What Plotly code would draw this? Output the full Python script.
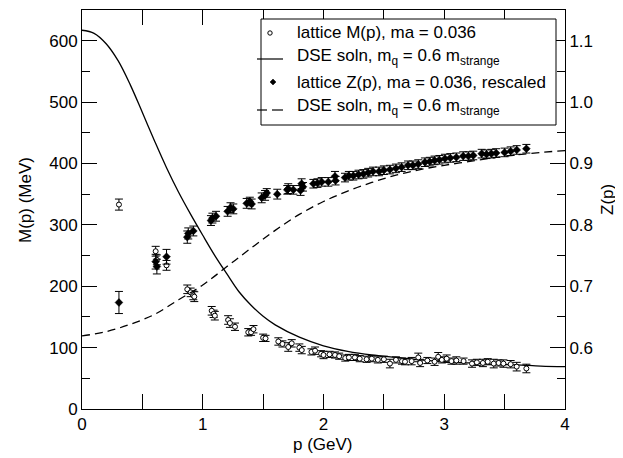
import plotly.graph_objects as go

# ---------------- data ----------------
# lattice M(p), ma = 0.036  (open circles, left axis, MeV)
m_p = [0.306, 0.61, 0.62, 0.70, 0.872, 0.90, 0.922, 0.93, 1.074, 1.09, 1.10, 1.21, 1.225, 1.267,
       1.377, 1.40, 1.42, 1.50, 1.52, 1.626, 1.66, 1.708, 1.737, 1.80, 1.82, 1.90, 1.93, 1.98,
       2.00, 2.05, 2.095, 2.13, 2.18, 2.21, 2.26, 2.30, 2.357, 2.40, 2.45, 2.50, 2.55, 2.60,
       2.65, 2.675, 2.73, 2.785, 2.80, 2.86, 2.92, 2.95, 2.98, 3.02, 3.06, 3.10, 3.16, 3.23,
       3.27, 3.32, 3.36, 3.41, 3.45, 3.49, 3.55, 3.60, 3.68]
m_val = [333, 257, 243, 234, 195, 190, 185, 183, 160, 155, 152, 145, 140, 134,
         125, 125, 130, 116, 115, 110, 106, 101, 107, 100, 96, 93, 95, 90,
         88, 89, 88, 86, 83, 84, 84, 82, 81, 82, 80, 81, 74, 80,
         78, 77, 78, 84, 75, 79, 77, 85, 80, 82, 78, 79, 78, 74,
         76, 75, 77, 74, 75, 74, 73, 69, 66]
m_err = [9, 8, 8, 8, 7, 7, 7, 8, 7, 6, 7, 7, 7, 6,
         6, 5, 6, 6, 5, 6, 5, 7, 6, 6, 6, 5, 6, 5,
         6, 5, 5, 5, 5, 5, 5, 5, 5, 5, 5, 5, 7, 5,
         5, 5, 6, 7, 6, 5, 6, 7, 5, 6, 5, 6, 5, 6,
         5, 6, 5, 7, 5, 6, 6, 7, 7]

# lattice Z(p), ma = 0.036, rescaled  (filled diamonds, right axis)
z_p = [0.306, 0.61, 0.62, 0.70, 0.872, 0.88, 0.922, 1.068, 1.08, 1.11, 1.206, 1.23, 1.253,
       1.364, 1.39, 1.405, 1.488, 1.516, 1.53, 1.617, 1.70, 1.708, 1.75, 1.81, 1.819, 1.83,
       1.916, 1.95, 1.985, 2.04, 2.095, 2.10, 2.178, 2.21, 2.247, 2.29, 2.33, 2.37, 2.41,
       2.46, 2.50, 2.55, 2.60, 2.647, 2.70, 2.74, 2.785, 2.84, 2.88, 2.92, 2.96, 3.006,
       3.05, 3.10, 3.157, 3.20, 3.24, 3.31, 3.35, 3.39, 3.43, 3.50, 3.55, 3.60, 3.68]
z_val = [0.6735, 0.740, 0.732, 0.748, 0.780, 0.786, 0.790, 0.807, 0.811, 0.814, 0.822, 0.828, 0.826,
         0.835, 0.838, 0.834, 0.844, 0.848, 0.852, 0.850, 0.857, 0.859, 0.857, 0.856, 0.867, 0.862,
         0.867, 0.868, 0.870, 0.870, 0.879, 0.872, 0.877, 0.880, 0.880, 0.882, 0.883, 0.885, 0.887,
         0.887, 0.889, 0.890, 0.892, 0.894, 0.897, 0.897, 0.899, 0.902, 0.903, 0.905, 0.906, 0.908,
         0.909, 0.910, 0.912, 0.912, 0.913, 0.916, 0.915, 0.916, 0.917, 0.918, 0.920, 0.922, 0.924]
z_err = [0.018, 0.012, 0.012, 0.012, 0.010, 0.009, 0.008, 0.008, 0.008, 0.008, 0.008, 0.008, 0.008,
         0.008, 0.007, 0.008, 0.008, 0.008, 0.007, 0.008, 0.007, 0.008, 0.007, 0.008, 0.008, 0.007,
         0.007, 0.007, 0.007, 0.007, 0.008, 0.007, 0.007, 0.007, 0.007, 0.007, 0.007, 0.007, 0.007,
         0.007, 0.007, 0.007, 0.007, 0.007, 0.007, 0.007, 0.007, 0.007, 0.007, 0.007, 0.007, 0.007,
         0.007, 0.007, 0.007, 0.007, 0.007, 0.007, 0.007, 0.007, 0.007, 0.007, 0.007, 0.007, 0.007]

# DSE solution M(p) (solid, left axis)
dse_m_p = [0.0, 0.1, 0.2, 0.3, 0.4, 0.5, 0.6, 0.7, 0.8, 0.9, 1.0, 1.1, 1.2, 1.3, 1.4, 1.5,
           1.6, 1.8, 2.0, 2.2, 2.4, 2.6, 2.8, 3.0, 3.2, 3.4, 3.6, 3.8, 4.0]
dse_m_val = [617, 612, 595, 567, 528, 483, 437, 393, 353, 317, 283, 250, 220, 191, 169, 151,
             137, 117, 103, 94, 88, 84, 80, 77, 75, 73, 72, 70, 69]

# DSE solution Z(p) (dashed, right axis)
dse_z_p = [0.0, 0.2, 0.4, 0.6, 0.8, 1.0, 1.2, 1.4, 1.6, 1.8, 2.0, 2.2, 2.4, 2.6, 2.8, 3.0,
           3.2, 3.4, 3.6, 3.8, 4.0]
dse_z_val = [0.619, 0.626, 0.638, 0.654, 0.678, 0.702, 0.732, 0.762, 0.791, 0.817, 0.838,
             0.855, 0.869, 0.881, 0.890, 0.897, 0.903, 0.909, 0.914, 0.918, 0.921]

x_ticks = [0, 1, 2, 3, 4]
m_ticks = [0, 100, 200, 300, 400, 500, 600]
z_ticks = [0.6, 0.7, 0.8, 0.9, 1.0, 1.1]
z_minor = [0.55, 0.65, 0.75, 0.85, 0.95, 1.05, 1.15]

legend_labels = [
    "lattice M(p), ma = 0.036",
    "DSE soln, m<sub>q</sub> = 0.6 m<sub>strange</sub>",
    "lattice Z(p), ma = 0.036, rescaled",
    "DSE soln, m<sub>q</sub> = 0.6 m<sub>strange</sub>",
]
x_title = "p (GeV)"
y_title = "M(p) (MeV)"
y2_title = "Z(p)"

# ---------------- figure ----------------
FONT = "Liberation Sans, Arial, Helvetica, sans-serif"
OFF = 8                       # browser body margin
W, H = 623 - OFF, 458 - OFF   # figure size
PL, PR, PT, PB = 82, 565, 10, 409   # plot area edges in window pixels
L, R, T, B = PL - OFF, W - (PR - OFF), PT - OFF, H - (PB - OFF)
PW, PH = PR - PL, PB - PT


def px(x):
    return (x - PL) / PW


def py(y):
    return (PB - y) / PH


fig = go.Figure()

fig.add_trace(go.Scatter(x=dse_m_p, y=dse_m_val, mode="lines", line=dict(color="black", width=1.3, shape="spline"),
                         yaxis="y", showlegend=False))
fig.add_trace(go.Scatter(x=dse_z_p, y=dse_z_val, mode="lines",
                         line=dict(color="black", width=1.3, dash="8px,5px", shape="spline"),
                         yaxis="y2", showlegend=False))
fig.add_trace(go.Scatter(x=m_p, y=m_val, mode="markers", yaxis="y", showlegend=False,
                         error_y=dict(type="data", array=m_err, color="black", thickness=1, width=4),
                         marker=dict(symbol="circle", size=5, color="white", line=dict(color="black", width=1))))
fig.add_trace(go.Scatter(x=z_p, y=z_val, mode="markers", yaxis="y2", showlegend=False,
                         error_y=dict(type="data", array=z_err, color="black", thickness=1, width=4),
                         marker=dict(symbol="diamond", size=6, color="black", line=dict(color="black", width=0.5))))

shapes = []
# legend box
shapes.append(dict(type="rect", xref="paper", yref="paper", x0=px(261), x1=px(556), y0=py(125), y1=py(19),
                   line=dict(color="black", width=1), fillcolor="white", layer="above"))
# legend line samples
shapes.append(dict(type="line", xref="paper", yref="paper", x0=px(257), x1=px(283), y0=py(59), y1=py(59),
                   line=dict(color="black", width=1.2), layer="above"))
shapes.append(dict(type="line", xref="paper", yref="paper", x0=px(257), x1=px(267), y0=py(110), y1=py(110),
                   line=dict(color="black", width=1.2), layer="above"))
shapes.append(dict(type="line", xref="paper", yref="paper", x0=px(272), x1=px(283), y0=py(110), y1=py(110),
                   line=dict(color="black", width=1.2), layer="above"))
# legend circle
shapes.append(dict(type="circle", xref="paper", yref="paper", xsizemode="pixel", ysizemode="pixel",
                   xanchor=px(270), yanchor=py(33), x0=-2.2, x1=2.2, y0=-2.2, y1=2.2,
                   line=dict(color="black", width=1), fillcolor="white", layer="above"))
# legend diamond
shapes.append(dict(type="path", xref="paper", yref="paper", xsizemode="pixel", ysizemode="pixel",
                   xanchor=px(273), yanchor=py(82), path="M 0 3 L 3 0 L 0 -3 L -3 0 Z",
                   line=dict(color="black", width=0.5), fillcolor="black", layer="above"))

annotations = []
for lab, yc in zip(legend_labels, [32, 57, 82, 107]):
    annotations.append(dict(text=lab, xref="paper", yref="paper", x=px(295), y=py(yc), xanchor="left",
                            yanchor="middle", showarrow=False, font=dict(family=FONT, size=17, color="black")))
# axis titles
annotations.append(dict(text=x_title, xref="paper", yref="paper", x=px(323), y=py(444), xanchor="center",
                        yanchor="middle", showarrow=False, font=dict(family=FONT, size=17, color="black")))
annotations.append(dict(text=y_title, xref="paper", yref="paper", x=px(25), y=py(200), xanchor="center",
                        yanchor="middle", textangle=-90, showarrow=False,
                        font=dict(family=FONT, size=17, color="black")))
annotations.append(dict(text=y2_title, xref="paper", yref="paper", x=px(607), y=py(200), xanchor="center",
                        yanchor="middle", textangle=-90, showarrow=False,
                        font=dict(family=FONT, size=17, color="black")))

axis_common = dict(showline=True, linecolor="black", linewidth=1, ticks="inside", tickcolor="black",
                   ticklen=15, tickwidth=1, showgrid=False, zeroline=False,
                   tickfont=dict(family=FONT, size=17, color="black"))

fig.update_layout(
    width=W, height=H, margin=dict(l=L, r=R, t=T, b=B, autoexpand=False),
    paper_bgcolor="white", plot_bgcolor="white",
    font=dict(family=FONT, size=17, color="black"),
    xaxis=dict(range=[0, 4], tickvals=x_ticks, mirror="allticks",
               minor=dict(dtick=0.5, tick0=0, ticks="inside", ticklen=8, tickcolor="black"),
               **axis_common),
    yaxis=dict(range=[0, 650], tickvals=m_ticks,
               minor=dict(dtick=50, tick0=0, ticks="inside", ticklen=8, tickcolor="black"),
               **axis_common),
    yaxis2=dict(range=[0.5, 1.15], tickvals=z_ticks, ticktext=[f"{v:.1f}" for v in z_ticks],
                overlaying="y", side="right",
                minor=dict(tickvals=z_minor, ticks="inside", ticklen=8, tickcolor="black"),
                **axis_common),
    shapes=shapes, annotations=annotations,
)

fig.write_html("out.html")
